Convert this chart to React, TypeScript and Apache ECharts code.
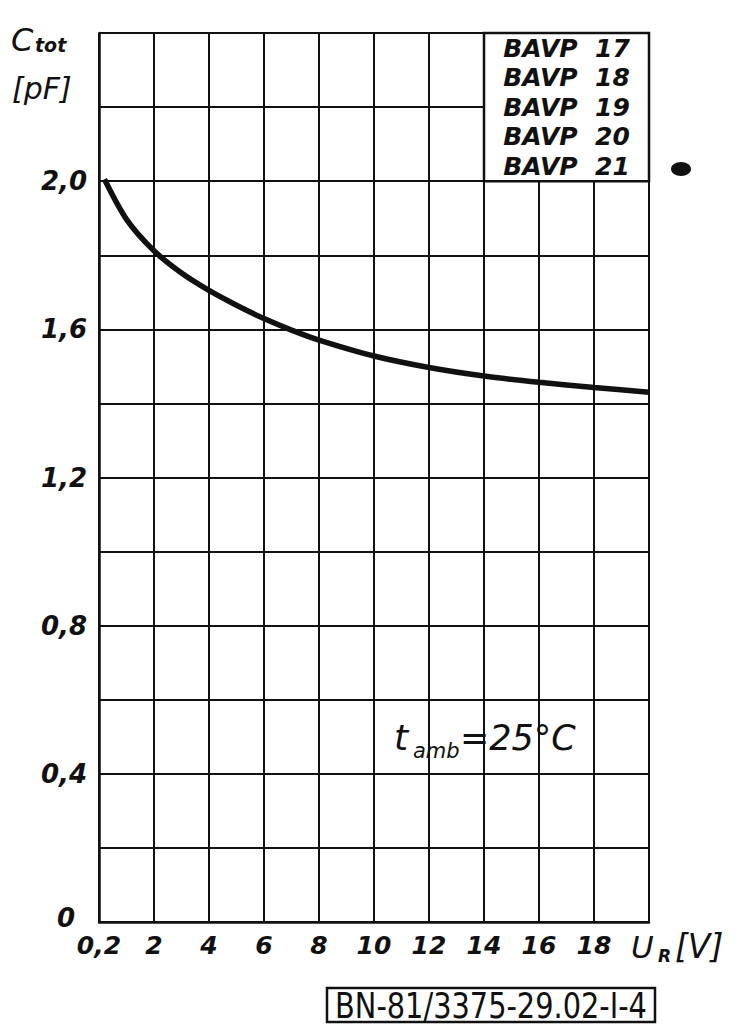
import React, { useEffect, useRef } from 'react';
import * as echarts from 'echarts';

// Reverse voltage U_R [V] and total capacitance C_tot [pF]
const voltages = [0.2, 1, 2, 3, 4, 5, 6, 7, 8, 10, 12, 14, 16, 18, 20];
const capacitance = [2.005, 1.897, 1.812, 1.752, 1.705, 1.665, 1.629, 1.598, 1.571, 1.528, 1.497, 1.474, 1.457, 1.443, 1.43];

const typeNames = ['BAVP 17', 'BAVP 18', 'BAVP 19', 'BAVP 20', 'BAVP 21'];
// tick labels by tick index (x step 2 V, y step 0.2 pF)
const xTickLabels = ['0,2', '2', '4', '6', '8', '10', '12', '14', '16', '18', ''];
const yTickLabels = ['0', '', '0,4', '', '0,8', '', '1,2', '', '1,6', '', '2,0', '', ''];
const legendBox = { x0: 14, x1: 20, y0: 2.0, y1: 2.4 };

const FONT = 'DejaVu Sans';
const INK = '#111';

export default function App() {
  const ref = useRef<HTMLDivElement>(null);
  useEffect(() => {
    const chart = echarts.init(ref.current!, null, { renderer: 'svg' });
    const txt = (text: string, x: number, y: number, size: number, extra: any = {}) => ({
      type: 'text',
      x,
      y,
      silent: true,
      style: {
        text,
        fontSize: size,
        fontFamily: FONT,
        fontStyle: 'italic',
        fill: INK,
        align: 'left',
        verticalAlign: 'middle',
        ...extra,
      },
    });
    const labelFont = {
      color: INK,
      fontFamily: FONT,
      fontStyle: 'italic',
      fontWeight: 'bold',
    };
    chart.setOption({
      animation: false,
      backgroundColor: '#fff',
      grid: { left: 99, right: 92, top: 33, bottom: 104, containLabel: false },
      xAxis: {
        type: 'value',
        min: 0,
        max: 20,
        interval: 2,
        axisLine: { show: true, onZero: false, lineStyle: { color: INK, width: 2.5 } },
        axisTick: { show: false },
        splitLine: { show: true, lineStyle: { color: INK, width: 2 } },
        axisLabel: {
          ...labelFont,
          fontSize: 25,
          margin: 11,
          formatter: (v: number) => xTickLabels[Math.round(v / 2)] ?? '',
        },
      },
      yAxis: {
        type: 'value',
        min: 0,
        max: 2.4,
        interval: 0.2,
        axisLine: { show: true, lineStyle: { color: INK, width: 2.5 } },
        axisTick: { show: false },
        splitLine: { show: true, lineStyle: { color: INK, width: 2 } },
        axisLabel: {
          ...labelFont,
          fontSize: 26,
          margin: 12,
          formatter: (v: number) => {
            const i = Math.round(v / 0.2);
            const s = yTickLabels[i] ?? '';
            return i === 0 ? '{z|' + s + '}' : s;
          },
          rich: {
            z: { ...labelFont, fontSize: 26, padding: [0, 12, 8, 0] },
          },
        },
      },
      series: [
        {
          type: 'line',
          data: voltages.map((v, i) => [v, capacitance[i]]),
          smooth: 0.3,
          showSymbol: false,
          symbol: 'none',
          lineStyle: { color: INK, width: 5.5 },
          silent: true,
          markArea: {
            silent: true,
            itemStyle: { color: '#fff', opacity: 1, borderColor: INK, borderWidth: 2.5 },
            label: {
              show: true,
              position: 'inside',
              formatter: typeNames.map((n) => n.replace(' ', '  ')).join('\n'),
              color: INK,
              fontSize: 25,
              lineHeight: 29.5,
              fontFamily: FONT,
              fontStyle: 'italic',
              fontWeight: 'bold',
            },
            data: [[
              { xAxis: legendBox.x0, yAxis: legendBox.y0 },
              { xAxis: legendBox.x1, yAxis: legendBox.y1 },
            ]],
          },
        },
      ],
      graphic: [
        txt('C', 11, 40, 32),
        txt('tot', 35, 45, 19, { fontWeight: 'bold' }),
        txt('[pF]', 12, 88, 30),
        txt('U', 631, 947, 31),
        txt('R', 658, 956, 17, { fontWeight: 'bold' }),
        txt('[V]', 675, 946, 33),
        txt('t', 394, 737, 36),
        txt('amb', 413, 751, 21),
        txt('=25°C', 460, 738, 35),
        {
          type: 'ellipse',
          shape: { cx: 681, cy: 169, rx: 10, ry: 7 },
          style: { fill: INK },
          silent: true,
        },
        {
          type: 'rect',
          shape: { x: 327, y: 988, width: 328, height: 34 },
          style: { fill: '#fff', stroke: INK, lineWidth: 2.5 },
          silent: true,
        },
        {
          type: 'text',
          x: 491,
          y: 1005,
          scaleX: 0.89,
          silent: true,
          style: {
            text: 'BN-81/3375-29.02-I-4',
            fontSize: 36,
            fontFamily: 'DejaVu Sans Condensed, Liberation Sans Narrow, sans-serif',
            fill: INK,
            align: 'center',
            verticalAlign: 'middle',
          },
        },
      ],
    });
    return () => chart.dispose();
  }, []);
  return (
    <div
      ref={ref}
      style={{ position: 'fixed', left: 0, top: 0, width: 741, height: 1026, background: '#fff' }}
    />
  );
}
